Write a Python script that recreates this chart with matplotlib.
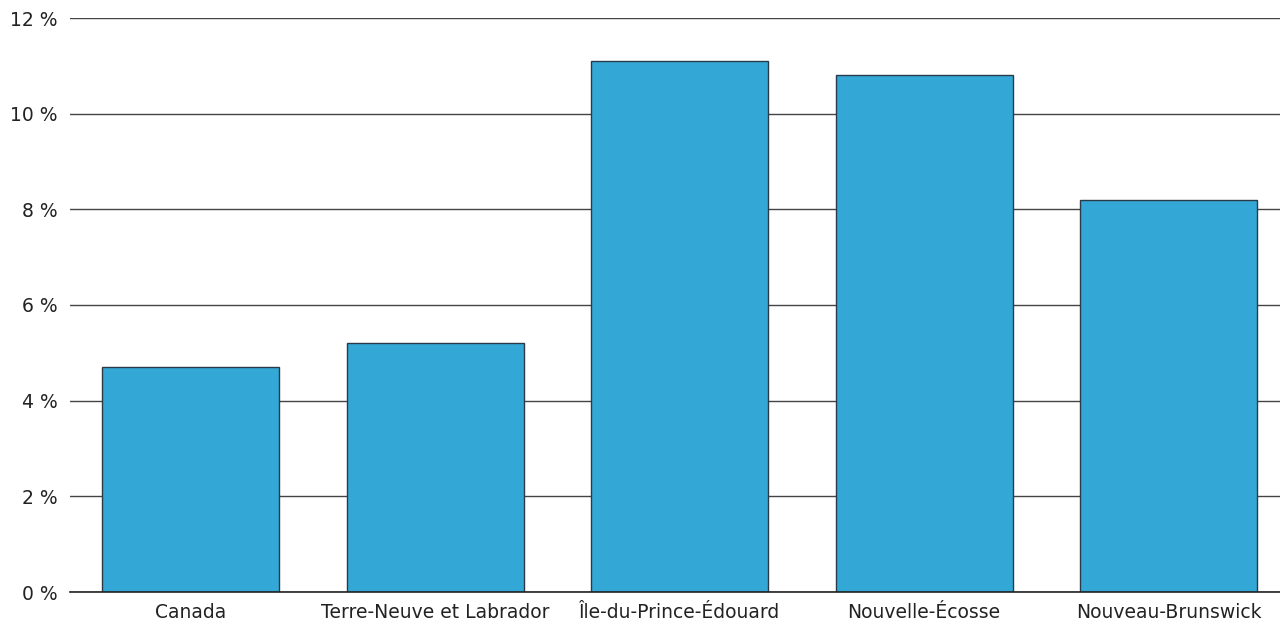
import matplotlib.pyplot as plt
import numpy as np

plt.rcParams['font.family'] = ['DejaVu Sans']

# data
provinces = ['Canada', 'Terre-Neuve et Labrador', 'Île-du-Prince-Édouard',
             'Nouvelle-Écosse', 'Nouveau-Brunswick']
values = [4.7, 5.2, 11.1, 10.8, 8.2]
yticks = [0, 2, 4, 6, 8, 10, 12]

bar_col = '#33A8D6'

fig = plt.figure(figsize=(12.8, 6.24), dpi=100)
ax = fig.add_axes([70 / 1280, 32 / 624, 1210 / 1280, 574 / 624])

x = np.arange(len(provinces))
ax.bar(x, values, width=0.724, color=bar_col, edgecolor='#2b3a48',
       linewidth=1, zorder=3)

ax.set_xlim(-0.493, 4.456)
ax.set_ylim(0, 12)
ax.set_yticks(yticks)
ax.set_yticklabels([f'{t} %' for t in yticks])
ax.set_xticks(x)
ax.set_xticklabels(provinces)

# grid
ax.yaxis.grid(color='#444444', linewidth=1)
ax.set_axisbelow(True)
for s in ['top', 'right', 'left']:
    ax.spines[s].set_visible(False)
ax.spines['bottom'].set_color('#222222')
ax.spines['bottom'].set_linewidth(1.2)
ax.spines['bottom'].set_zorder(4)

ax.tick_params(axis='both', length=0, labelsize=13.5, colors='#222222')
ax.tick_params(axis='y', pad=9)
ax.tick_params(axis='x', pad=8)

fig.savefig('out.png', dpi=100)
